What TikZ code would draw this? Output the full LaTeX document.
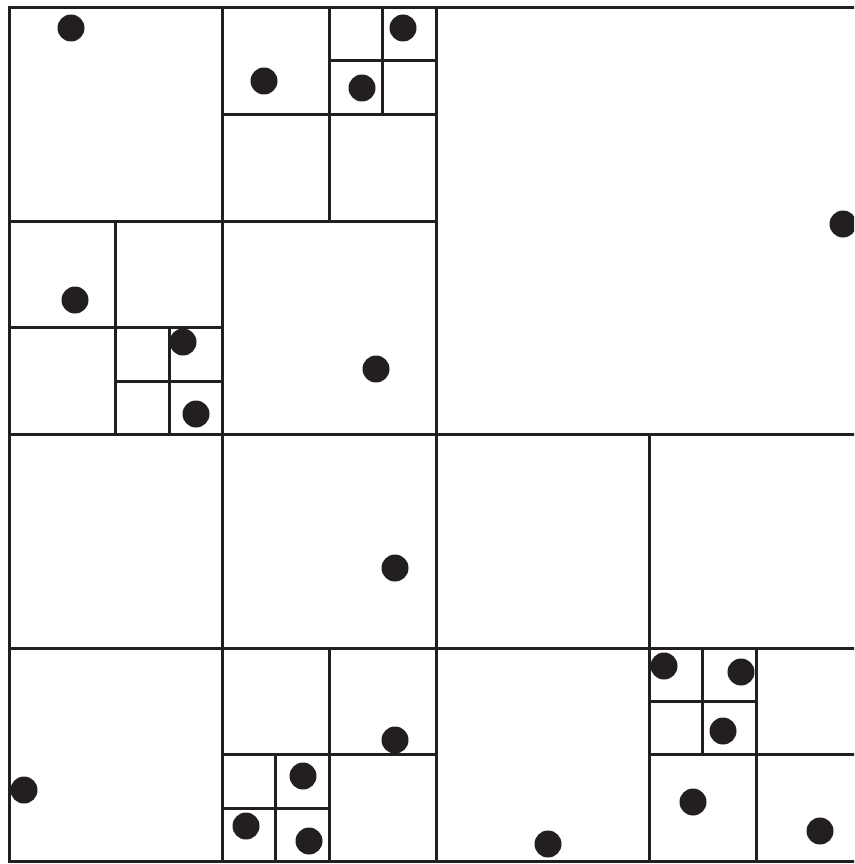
\documentclass[tikz,border=0pt]{standalone}
\definecolor{ink}{HTML}{231F20}
\tikzset{
  gridline/.style={draw=ink, line width=3pt, line cap=rect},
  pt/.style={fill=ink},
}
\newcommand{\qsplit}[4]{% x1 y1 x2 y2 : draw cross dividing the cell
  \pgfmathsetmacro{\mx}{(#1+#3)/2}\pgfmathsetmacro{\my}{(#2+#4)/2}
  \draw[gridline] (\mx,#2) -- (\mx,#4) (#1,\my) -- (#3,\my);}
\newcommand{\dotat}[2]{\fill[pt] (#1,#2) circle (13.5);}
\begin{document}
\begin{tikzpicture}[x=1pt,y=-1pt]
\useasboundingbox (0,0) rectangle (854,864);
\fill[white] (0,0) rectangle (854,864);
\clip (0,0) rectangle (854,864);
% outer square
\draw[gridline] (9,7.5) rectangle (863,861.5);
% level 1
\qsplit{9}{7.5}{863}{861.5}
% NW quadrant
\qsplit{9}{7.5}{436}{434.5}
\qsplit{222.5}{7.5}{436}{221}
\qsplit{329.25}{7.5}{436}{114.25}
\qsplit{9}{221}{222.5}{434.5}
\qsplit{115.75}{327.75}{222.5}{434.5}
% SW quadrant
\qsplit{9}{434.5}{436}{861.5}
\qsplit{222.5}{648}{436}{861.5}
\qsplit{222.5}{754.75}{329.25}{861.5}
% SE quadrant
\qsplit{436}{434.5}{863}{861.5}
\qsplit{649.5}{648}{863}{861.5}
\qsplit{649.5}{648}{756.25}{754.75}
% points
\dotat{71}{28}
\dotat{264}{81}
\dotat{403}{28}
\dotat{362}{88}
\dotat{75}{300}
\dotat{183}{342}
\dotat{196}{414}
\dotat{376}{369}
\dotat{843}{224}
\dotat{395}{568}
\dotat{24}{790}
\dotat{395}{740}
\dotat{303}{776}
\dotat{246}{826}
\dotat{309}{841}
\dotat{548}{844}
\dotat{664}{666}
\dotat{741}{672}
\dotat{723}{731}
\dotat{693}{802}
\dotat{820}{831}
\end{tikzpicture}
\end{document}
